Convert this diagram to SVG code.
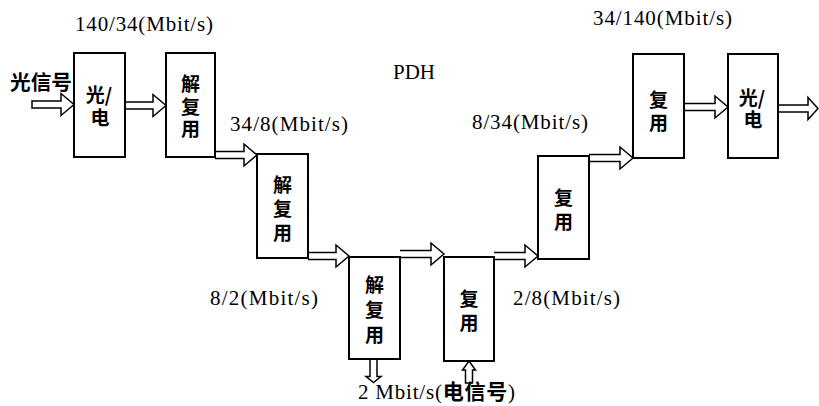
<svg xmlns="http://www.w3.org/2000/svg" width="819" height="406" viewBox="0 0 819 406">
<style>
.box{fill:#fff;stroke:#000;stroke-width:2}
.arr{fill:#fff;stroke:#000;stroke-width:1.5;stroke-linejoin:miter}
.cn{font-family:"Noto Sans CJK SC","Noto Sans",sans-serif;font-weight:bold;font-size:19px;text-anchor:middle;fill:#000}
.lbl{font-family:"Liberation Serif","Noto Sans CJK SC",serif;font-size:21px;fill:#000}
.cjk{font-family:"Noto Sans CJK SC",sans-serif;font-weight:bold}
</style>
<rect width="819" height="406" fill="#fff"/>
<g id="connectors">
<path class="arr" d="M32,101 H61 V93.5 L74,104.5 L61,115.5 V108 H32 Z"/>
<path class="arr" d="M125,102 H153 V94.5 L166,105.5 L153,116.5 V109 H125"/>
<path class="arr" d="M215,151.5 H244 V144 L257,155 L244,166 V158.5 H215"/>
<path class="arr" d="M308,252.5 H336 V245 L349,256 L336,267 V259.5 H308"/>
<path class="arr" d="M400,250.5 H431 V243 L444,254 L431,265 V257.5 H400"/>
<path class="arr" d="M494,252.5 H525 V245 L538,256 L525,267 V259.5 H494"/>
<path class="arr" d="M589,154.5 H620 V147 L633,158 L620,169 V161.5 H589"/>
<path class="arr" d="M684,103.5 H715 V96 L728,107 L715,118 V110.5 H684"/>
<path class="arr" d="M778,105 H808 V97.5 L818,108.5 L808,119.5 V112 H778"/>
<path class="arr" d="M370,359 V376.5 H366 L373.5,382.5 L381,376.5 H377 V359"/>
<path class="arr" d="M465.5,383 V370 H462.5 L469,361 L475.5,370 H472.5 V383 Z"/>
</g>
<g id="n1"><rect class="box" x="74" y="53" width="51" height="104"/><text class="cn"><tspan x="99" y="102">光/</tspan><tspan x="100" y="125">电</tspan></text></g>
<g id="n2"><rect class="box" x="166" y="53" width="49" height="104"/><text class="cn"><tspan x="190.5" y="91">解</tspan><tspan x="190.5" y="114">复</tspan><tspan x="190.5" y="136">用</tspan></text></g>
<g id="n3"><rect class="box" x="257" y="154" width="51" height="104"/><text class="cn"><tspan x="282.5" y="192">解</tspan><tspan x="282.5" y="216">复</tspan><tspan x="282.5" y="240">用</tspan></text></g>
<g id="n4"><rect class="box" x="349" y="257" width="51" height="102"/><text class="cn"><tspan x="374.5" y="292">解</tspan><tspan x="374.5" y="317">复</tspan><tspan x="374.5" y="342">用</tspan></text></g>
<g id="n5"><rect class="box" x="444" y="257" width="50" height="104"/><text class="cn"><tspan x="469" y="306">复</tspan><tspan x="469" y="330">用</tspan></text></g>
<g id="n6"><rect class="box" x="538" y="156" width="51" height="103"/><text class="cn"><tspan x="563.5" y="205">复</tspan><tspan x="563.5" y="229">用</tspan></text></g>
<g id="n7"><rect class="box" x="633" y="54" width="51" height="104"/><text class="cn"><tspan x="658.5" y="107">复</tspan><tspan x="658.5" y="130">用</tspan></text></g>
<g id="n8"><rect class="box" x="728" y="54" width="50" height="104"/><text class="cn"><tspan x="752" y="105">光/</tspan><tspan x="753" y="127">电</tspan></text></g>
<g id="labels">
<text class="cjk" x="10" y="90" font-size="20.5" textLength="62" lengthAdjust="spacingAndGlyphs">光信号</text>
<text class="lbl" x="75" y="31" textLength="138">140/34(Mbit/s)</text>
<text class="lbl" x="593" y="25" textLength="139">34/140(Mbit/s)</text>
<text class="lbl" x="393" y="79" textLength="42">PDH</text>
<text class="lbl" x="230" y="131" textLength="118">34/8(Mbit/s)</text>
<text class="lbl" x="472" y="129" textLength="116">8/34(Mbit/s)</text>
<text class="lbl" x="210" y="305" textLength="108">8/2(Mbit/s)</text>
<text class="lbl" x="513" y="305" textLength="107">2/8(Mbit/s)</text>
<text class="lbl" x="358" y="399" textLength="157">2 Mbit/s(<tspan class="cjk" font-weight="600">电信号</tspan>)</text>
</g>
</svg>
